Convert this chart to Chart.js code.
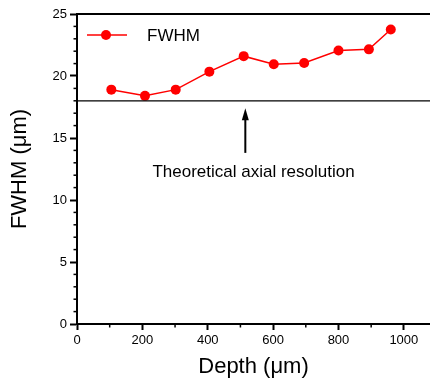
<!DOCTYPE html>
<html>
<head>
<meta charset="utf-8">
<script src="https://cdn.jsdelivr.net/npm/chart.js@4.4.0/dist/chart.umd.min.js"></script>
<style>
  body { margin: 0; background: #fff; }
  #wrap { width: 430px; height: 382px; }
</style>
</head>
<body>
<div id="wrap"><canvas id="chart0"></canvas></div>
<script>
"use strict"

// == data
const depth = [105, 208, 302, 405, 510, 602, 695, 800, 893, 960]
const fwhm  = [18.9, 18.4, 18.9, 20.35, 21.6, 20.95, 21.05, 22.05, 22.15, 23.75]

const xTicks = [0, 200, 400, 600, 800, 1000]
const yTicks = [0, 5, 10, 15, 20, 25]
const xMinor = [100, 300, 500, 700, 900]
const yMinor = [1, 2, 3, 4, 6, 7, 8, 9, 11, 12, 13, 14, 16, 17, 18, 19, 21, 22, 23, 24]

const theoryRes = 18           // the horizontal line
const arrowX = 515             // where the arrow sits (depth)
const arrowTip = 17.4
const arrowTail = 13.8
const noteText = "Theoretical axial resolution"
const noteY = 11.85

const FONT = "'Liberation Sans', Arial, sans-serif"

// draws the frame top, reference line, arrow, note, minor ticks and the legend
const extras = {
    id: 'extras',
    afterDraw(chart) {
        const ctx = chart.ctx
        const area = chart.chartArea
        const x = chart.scales.x
        const y = chart.scales.y
        ctx.save()
        ctx.strokeStyle = '#000'
        ctx.fillStyle = '#000'

        // top line of the frame
        ctx.fillRect(area.left - 1, Math.round(area.top) - 1, area.right - area.left + 1, 2)

        // theoretical resolution
        ctx.lineWidth = 1.3
        ctx.beginPath()
        ctx.moveTo(area.left, y.getPixelForValue(theoryRes))
        ctx.lineTo(area.right, y.getPixelForValue(theoryRes))
        ctx.stroke()

        // minor ticks
        ctx.lineWidth = 1.5
        for (let i = 0; i < xMinor.length; i++) {
            let px = x.getPixelForValue(xMinor[i])
            ctx.beginPath()
            ctx.moveTo(px, area.bottom)
            ctx.lineTo(px, area.bottom + 3.5)
            ctx.stroke()
        }
        for (let i = 0; i < yMinor.length; i++) {
            let py = y.getPixelForValue(yMinor[i])
            ctx.beginPath()
            ctx.moveTo(area.left, py)
            ctx.lineTo(area.left - 3.5, py)
            ctx.stroke()
        }

        // arrow
        let ax = x.getPixelForValue(arrowX)
        let tip = y.getPixelForValue(arrowTip)
        let tail = y.getPixelForValue(arrowTail)
        ctx.lineWidth = 2
        ctx.beginPath()
        ctx.moveTo(ax, tail)
        ctx.lineTo(ax, tip + 8)
        ctx.stroke()
        ctx.beginPath()
        ctx.moveTo(ax, tip)
        ctx.lineTo(ax - 3.5, tip + 12)
        ctx.lineTo(ax + 3.5, tip + 12)
        ctx.closePath()
        ctx.fill()

        // note
        ctx.font = "17px " + FONT
        ctx.textAlign = 'center'
        ctx.textBaseline = 'alphabetic'
        ctx.fillText(noteText, (area.left + area.right) / 2, y.getPixelForValue(noteY))

        // legend
        let ly = area.top + 21
        let lx = area.left + 10
        ctx.strokeStyle = '#ff0000'
        ctx.lineWidth = 1.5
        ctx.beginPath()
        ctx.moveTo(lx, ly)
        ctx.lineTo(lx + 40, ly)
        ctx.stroke()
        ctx.fillStyle = '#ff0000'
        ctx.beginPath()
        ctx.arc(lx + 19, ly, 5, 0, Math.PI * 2)
        ctx.fill()
        ctx.fillStyle = '#000'
        ctx.font = "17px " + FONT
        ctx.textAlign = 'left'
        ctx.textBaseline = 'middle'
        ctx.fillText("FWHM", lx + 60, ly + 1)

        ctx.restore()
    }
}

function CreateGraph(chart) {
    return new Chart(chart, {
        type: 'line',
        data: {
            datasets: [{
                label: 'FWHM',
                data: depth.map((d, i) => ({x: d, y: fwhm[i]})),
                borderColor: '#ff0000',
                backgroundColor: '#ff0000',
                borderWidth: 1.5,
                pointRadius: 5,
                pointBorderWidth: 0,
                tension: 0
            }]
        },
        options: {
            responsive: true,
            maintainAspectRatio: false,
            animation: false,
            layout: { autoPadding: false, padding: { top: 14, right: 0, bottom: 0, left: 0 } },
            plugins: {
                legend: { display: false },
                tooltip: { enabled: false }
            },
            scales: {
                x: {
                    type: 'linear',
                    min: 0,
                    max: 1080,
                    afterBuildTicks: s => { s.ticks = xTicks.map(v => ({value: v})) },
                    afterFit: s => { s.height = 58 },
                    border: { display: true, color: '#000', width: 2 },
                    grid: { drawOnChartArea: false, drawTicks: true, tickLength: 6, tickColor: '#000', tickWidth: 2 },
                    ticks: { color: '#000', padding: 3, maxRotation: 0, callback: v => String(v), font: { family: FONT, size: 13 } },
                    title: {
                        display: true,
                        text: 'Depth (\u03bcm)',
                        color: '#000',
                        padding: { top: 0, bottom: 2 },
                        font: { family: FONT, size: 22 }
                    }
                },
                y: {
                    type: 'linear',
                    min: 0,
                    max: 25,
                    afterBuildTicks: s => { s.ticks = yTicks.map(v => ({value: v})) },
                    afterFit: s => { s.width = 77 },
                    border: { display: true, color: '#000', width: 2 },
                    grid: { drawOnChartArea: false, drawTicks: true, tickLength: 7, tickColor: '#000', tickWidth: 2 },
                    ticks: { color: '#000', padding: 3, callback: v => String(v), font: { family: FONT, size: 13 } },
                    title: {
                        display: true,
                        text: 'FWHM (\u03bcm)',
                        color: '#000',
                        padding: { top: 7, bottom: 0 },
                        font: { family: FONT, size: 22 }
                    }
                }
            }
        },
        plugins: [extras]
    })
}

CreateGraph(document.getElementById('chart0').getContext('2d'))
</script>
</body>
</html>
